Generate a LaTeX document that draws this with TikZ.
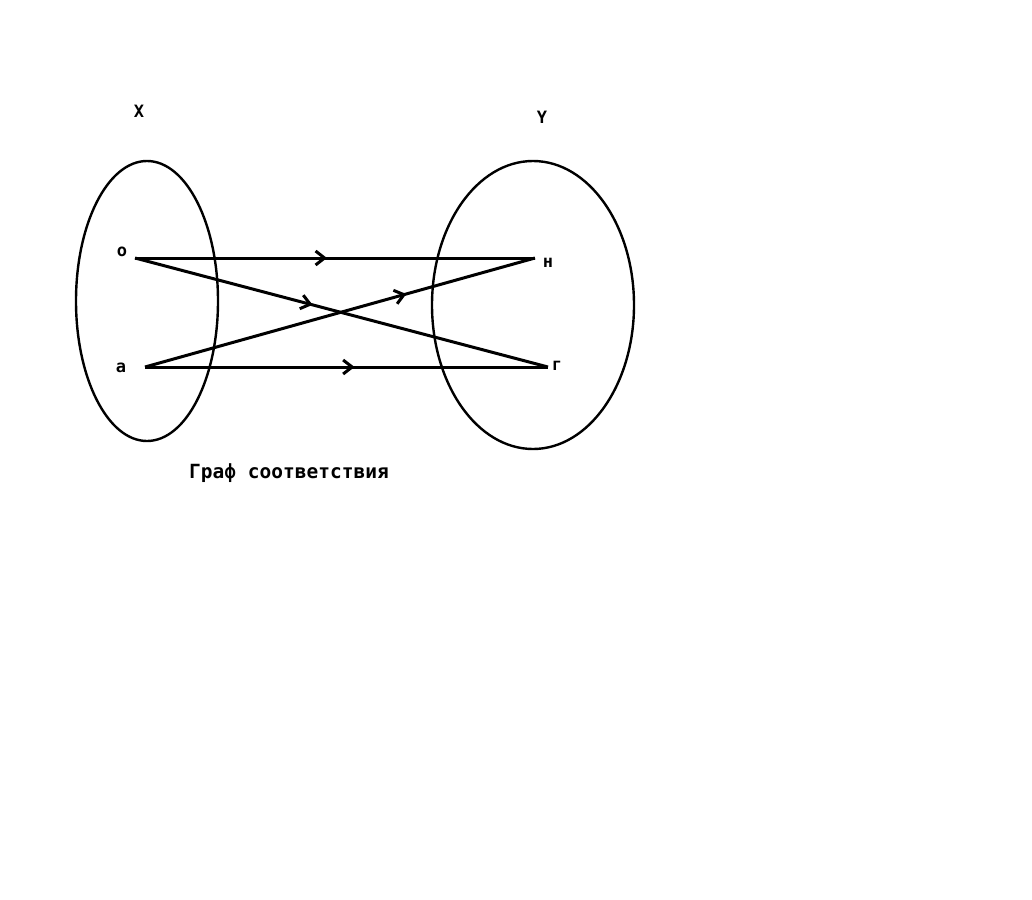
\documentclass[tikz,border=0pt]{standalone}
\usepackage{fontspec}
\setmainfont{DejaVu Sans}
\newfontfamily\labfont{DejaVu Sans Mono}
\usetikzlibrary{arrows.meta,decorations.markings,shapes.geometric}
\tikzset{
  setshape/.style={draw, line width=2.4pt},
  lbl/.style={font=\labfont\bfseries\fontsize{17}{17}\selectfont, inner sep=0pt},
  caplbl/.style={font=\labfont\bfseries\fontsize{19.5}{19.5}\selectfont, inner sep=0pt},
  edge/.style={line width=3pt},
  midarrow/.style={postaction={decorate, decoration={markings,
      mark=at position #1 with {\arrow[line width=3pt]{Straight Barb[length=9pt,width=14pt]}}}}}
}
\begin{document}
\begin{tikzpicture}[x=1pt,y=-1pt]
\useasboundingbox (0,0) rectangle (1032,899);
\fill[white] (0,0) rectangle (1032,899);
% sets
\node[setshape, ellipse, minimum width=142pt, minimum height=280pt, inner sep=0pt] (X) at (147,301) {};
\node[setshape, ellipse, minimum width=202pt, minimum height=288pt, inner sep=0pt] (Y) at (533,305) {};
\node[lbl] (xl) at (139,111) {X};
\node[lbl] (yl) at (542,117) {Y};
% points
\coordinate (o) at (135,258);
\coordinate (a) at (145,367);
\coordinate (n) at (535,258);
\coordinate (g) at (548,367);
\node[lbl] (ol) at (122,252) {о};
\node[lbl] (al) at (121,368) {а};
\node[lbl] (nl) at (548,263) {н};
\node[lbl] (gl) at (557,366) {г};
% edges
\draw[edge, midarrow=0.48] (o) -- (n);
\draw[edge, midarrow=0.43] (o) -- (g);
\draw[edge, midarrow=0.67] (a) -- (n);
\draw[edge, midarrow=0.52] (a) -- (g);
% caption
\node[caplbl] (cap) at (289,473) {Граф соответствия};
\end{tikzpicture}
\end{document}
